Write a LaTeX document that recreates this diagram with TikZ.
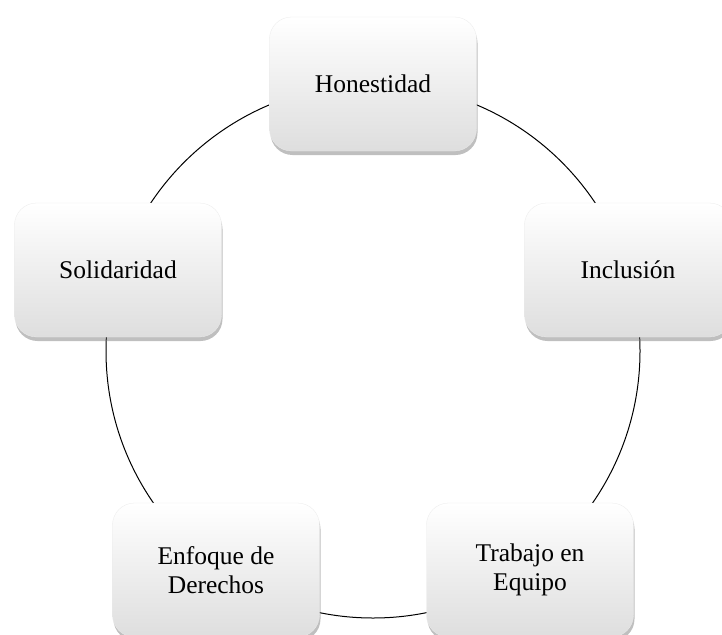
\documentclass[tikz,border=0pt]{standalone}
\usepackage{fontspec}
\setmainfont{Liberation Serif}
\usetikzlibrary{shadows}
\tikzset{
  valuebox/.style={rectangle, rounded corners=22pt, minimum width=207pt, minimum height=134pt,
    align=center, inner sep=4pt,
    top color=white, middle color=white, bottom color=black!13,
    draw=black!8, line width=0.3pt,
    drop shadow={shadow xshift=1pt, shadow yshift=-4pt, opacity=0.45, fill=black!55},
    font=\fontsize{25.5}{29}\selectfont},
  ring/.style={draw=black, line width=1pt}
}
\begin{document}
\begin{tikzpicture}[x=1pt,y=-1pt]
\useasboundingbox (0,0) rectangle (722,634);
\clip (0,0) rectangle (722,634);
\fill[white] (0,0) rectangle (722,634);
\coordinate (c) at (373,351);
\draw[ring] (c) circle[radius=267pt];
\node[valuebox] (hon) at (373,84) {Honestidad};
\node[valuebox] (inc) at (628,270) {Inclusión};
\node[valuebox] (sol) at (118,270) {Solidaridad};
\node[valuebox] (enf) at (216,570) {Enfoque de\\Derechos};
\node[valuebox] (tra) at (530,570) {Trabajo en\\Equipo};
\end{tikzpicture}
\end{document}
